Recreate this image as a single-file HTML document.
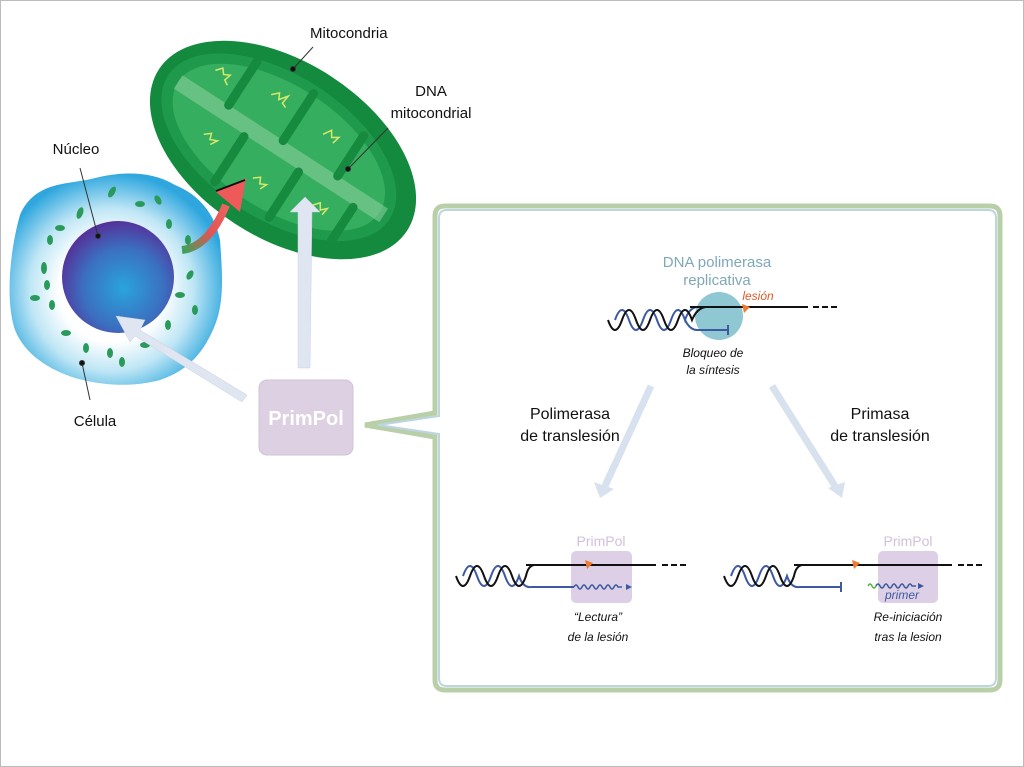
<!DOCTYPE html>
<html><head><meta charset="utf-8"><style>
html,body{margin:0;padding:0;background:#fff;}
svg{display:block;font-family:"Liberation Sans",Arial,sans-serif;}
</style></head><body>
<svg width="1024" height="767" viewBox="0 0 1024 767" xmlns="http://www.w3.org/2000/svg">
<defs>
<radialGradient id="cell" cx="0.48" cy="0.55" r="0.55">
<stop offset="0.45" stop-color="#ffffff"/><stop offset="0.7" stop-color="#bfe6f5"/><stop offset="1" stop-color="#2fa7de"/>
</radialGradient>
<radialGradient id="nuc" cx="0.55" cy="0.6" r="0.6">
<stop offset="0" stop-color="#2aa4dc"/><stop offset="0.6" stop-color="#3b6fc0"/><stop offset="1" stop-color="#55329a"/>
</radialGradient>
<linearGradient id="red" x1="0" y1="1" x2="1" y2="0">
<stop offset="0" stop-color="#3aa35a"/><stop offset="0.5" stop-color="#e05555"/><stop offset="1" stop-color="#f06060"/>
</linearGradient>
</defs>
<rect x="0.5" y="0.5" width="1023" height="766" fill="#fff" stroke="#bbb"/>

<!-- Cell -->
<path d="M20,215 C35,180 70,185 95,178 C120,172 150,170 175,185 C200,195 215,215 220,240 C222,270 225,300 215,325 C205,350 190,370 160,380 C130,388 100,385 75,378 C50,370 25,355 15,330 C5,300 10,250 20,215 Z" fill="url(#cell)"/>
<circle cx="118" cy="277" r="56" fill="url(#nuc)"/>
<g fill="#2a9a5a">
<ellipse cx="112" cy="192" rx="3" ry="6" transform="rotate(30 112 192)"/>
<ellipse cx="140" cy="204" rx="5" ry="3"/>
<ellipse cx="158" cy="200" rx="3" ry="5" transform="rotate(-30 158 200)"/>
<ellipse cx="80" cy="213" rx="3" ry="6" transform="rotate(20 80 213)"/>
<ellipse cx="60" cy="228" rx="5" ry="3"/>
<ellipse cx="50" cy="240" rx="3" ry="5"/>
<ellipse cx="169" cy="224" rx="3" ry="5"/>
<ellipse cx="188" cy="240" rx="3" ry="5"/>
<ellipse cx="44" cy="268" rx="3" ry="6"/>
<ellipse cx="47" cy="285" rx="3" ry="5"/>
<ellipse cx="35" cy="298" rx="5" ry="3"/>
<ellipse cx="52" cy="305" rx="3" ry="5"/>
<ellipse cx="190" cy="275" rx="3" ry="5" transform="rotate(30 190 275)"/>
<ellipse cx="180" cy="295" rx="5" ry="3"/>
<ellipse cx="195" cy="310" rx="3" ry="5"/>
<ellipse cx="168" cy="325" rx="3" ry="5"/>
<ellipse cx="66" cy="333" rx="5" ry="3"/>
<ellipse cx="86" cy="348" rx="3" ry="5"/>
<ellipse cx="110" cy="353" rx="3" ry="5"/>
<ellipse cx="122" cy="362" rx="3" ry="5"/>
<ellipse cx="145" cy="345" rx="5" ry="3"/>
</g>

<!-- Mitochondria -->
<g transform="translate(283,150) rotate(33)">
<ellipse cx="0" cy="0" rx="148" ry="88" fill="#138a3e"/>
<ellipse cx="-5" cy="0" rx="132" ry="72" fill="#1f9a4c"/>
<ellipse cx="-5" cy="0" rx="120" ry="62" fill="#36ae60"/>
<path d="M-125,0 L120,0" stroke="#8fd2a0" stroke-width="16" opacity="0.55"/>
<g stroke="#168a3e" stroke-width="9" stroke-linecap="round">
<line x1="-70" y1="-60" x2="-70" y2="-8"/>
<line x1="-5" y1="-64" x2="-5" y2="-8"/>
<line x1="60" y1="-56" x2="60" y2="-8"/>
<line x1="-40" y1="64" x2="-40" y2="10"/>
<line x1="25" y1="64" x2="25" y2="10"/>
<line x1="90" y1="50" x2="90" y2="10"/>
</g>
<g stroke="#d8e86a" stroke-width="1.5" fill="none">
<path d="M-100,-30 l5,-6 l4,5 l6,-3 l-2,7 l5,3"/>
<path d="M-40,-40 l6,-6 l3,6 l6,-8 l-1,9 l5,2"/>
<path d="M-75,30 l6,-5 l2,6 l7,-3 l-4,7"/>
<path d="M25,-35 l5,-8 l4,6 l6,-4 l-2,8"/>
<path d="M-10,40 l6,-5 l3,6 l6,-3 l-3,7"/>
<path d="M55,30 l5,-6 l4,6 l5,-5 l-1,8"/>
</g>
</g>

<!-- red arrow -->
<path d="M182,250 C200,248 215,232 226,205" stroke="url(#red)" stroke-width="8" fill="none"/>
<path d="M216,192 L246,178 L240,212 Z" fill="#ee5a5a"/>
<path d="M216,191 L245,180" stroke="#111" stroke-width="2"/>

<!-- leader lines -->
<g stroke="#333" stroke-width="1" fill="#111">
<line x1="80" y1="168" x2="98" y2="236"/><circle cx="98" cy="236" r="2.5"/>
<line x1="90" y1="400" x2="82" y2="363"/><circle cx="82" cy="363" r="2.5"/>
<line x1="313" y1="47" x2="293" y2="69"/><circle cx="293" cy="69" r="2.5"/>
<line x1="388" y1="128" x2="348" y2="169"/><circle cx="348" cy="169" r="2.5"/>
</g>
<text x="310" y="38" font-size="15" fill="#111">Mitocondria</text>
<text x="431" y="96" font-size="15" fill="#111" text-anchor="middle">DNA</text>
<text x="431" y="118" font-size="15" fill="#111" text-anchor="middle">mitocondrial</text>
<text x="76" y="154" font-size="15" fill="#111" text-anchor="middle">Núcleo</text>
<text x="95" y="426" font-size="15" fill="#111" text-anchor="middle">Célula</text>

<!-- light arrows -->
<path d="M247,395 L140,330 L145,320 L116,316 L130,342 L135,336 L242,402 Z" fill="#dfe6f2" stroke="#c8d0e0" stroke-width="0.5"/>
<path d="M298,368 L298,212 L290,212 L305,197 L320,212 L312,212 L310,368 Z" fill="#dfe6f2" stroke="#c8d0e0" stroke-width="0.5"/>

<!-- PrimPol box -->
<rect x="259" y="380" width="94" height="75" rx="8" fill="#dcd0e2" stroke="#cfc3d8"/>
<text x="306" y="425" font-size="20" font-weight="bold" fill="#fff" text-anchor="middle">PrimPol</text>

<!-- big panel -->
<path d="M445,206 L990,206 Q1000,206 1000,216 L1000,680 Q1000,690 990,690 L445,690 Q435,690 435,680 L435,437 L365,425 L435,413 L435,216 Q435,206 445,206 Z" fill="#fff" stroke="#b9cfa8" stroke-width="5"/>
<path d="M447,210 L988,210 Q996,210 996,218 L996,678 Q996,686 988,686 L447,686 Q439,686 439,678 L439,434 L378,425 L439,416 L439,218 Q439,210 447,210 Z" fill="#fff" stroke="#bdd4e3" stroke-width="2"/>

<!-- top diagram -->
<text x="717" y="267" font-size="15" fill="#7fa8b8" text-anchor="middle">DNA polimerasa</text>
<text x="717" y="285" font-size="15" fill="#7fa8b8" text-anchor="middle">replicativa</text>
<text x="758" y="300" font-size="12" font-style="italic" fill="#e05a2a" text-anchor="middle">lesión</text>
<circle cx="719" cy="316" r="24" fill="#8fc7d3"/>
<path d="M615,320 q7,-20 14,0 t14,0 t14,0 t14,0 t14,0 q4,-12 12,-13" stroke="#3d5aa0" stroke-width="2" fill="none"/>
<path d="M608,320 q7,20 14,0 t14,0 t14,0 t14,0 t14,0 t14,0 q5,-12 14,-13" stroke="#111" stroke-width="2" fill="none"/>
<line x1="690" y1="307" x2="808" y2="307" stroke="#111" stroke-width="2"/>
<line x1="813" y1="307" x2="838" y2="307" stroke="#111" stroke-width="2" stroke-dasharray="6,3"/>
<path d="M685,320 q5,10 12,10 L728,330" stroke="#3d5aa0" stroke-width="2" fill="none"/>
<line x1="728" y1="325" x2="728" y2="335" stroke="#3d5aa0" stroke-width="2"/>
<path d="M742,304 l8,3 l-6,6 Z" fill="#f07a30"/>
<text x="713" y="357" font-size="12" font-style="italic" fill="#111" text-anchor="middle">Bloqueo de</text>
<text x="713" y="374" font-size="12" font-style="italic" fill="#111" text-anchor="middle">la síntesis</text>

<!-- diagonal arrows -->
<path d="M651,386 L605,486" stroke="#d7e2ee" stroke-width="7" fill="none"/>
<path d="M600,498 L594,482 L614,489 Z" fill="#d7e2ee"/>
<path d="M772,386 L835,486" stroke="#d7e2ee" stroke-width="7" fill="none"/>
<path d="M842,498 L828,488 L845,482 Z" fill="#d7e2ee"/>

<text x="570" y="419" font-size="16" fill="#111" text-anchor="middle">Polimerasa</text>
<text x="570" y="441" font-size="16" fill="#111" text-anchor="middle">de translesión</text>
<text x="880" y="419" font-size="16" fill="#111" text-anchor="middle">Primasa</text>
<text x="880" y="441" font-size="16" fill="#111" text-anchor="middle">de translesión</text>

<!-- bottom left -->
<rect x="571" y="551" width="61" height="52" rx="5" fill="#ddd0e6"/>
<text x="601" y="546" font-size="14" fill="#d3bfdc" text-anchor="middle">PrimPol</text>
<path d="M463,576 q7,-20 14,0 t14,0 t14,0 t14,0 q4,12 12,11" stroke="#3d5aa0" stroke-width="2" fill="none"/>
<path d="M456,576 q7,20 14,0 t14,0 t14,0 t14,0 t14,0 q2,-10 8,-11" stroke="#111" stroke-width="2" fill="none"/>
<line x1="526" y1="565" x2="656" y2="565" stroke="#111" stroke-width="2"/>
<line x1="662" y1="565" x2="687" y2="565" stroke="#111" stroke-width="2" stroke-dasharray="6,3"/>
<line x1="531" y1="587" x2="574" y2="587" stroke="#3d5aa0" stroke-width="2"/>
<path d="M574,587 q2,-4 4,0 t4,0 t4,0 t4,0 t4,0 t4,0 t4,0 t4,0 t4,0 t4,0 t4,0 l4,0" stroke="#3d5aa0" stroke-width="1.5" fill="none"/>
<path d="M626,584 l6,3 l-6,3 Z" fill="#3d5aa0"/>
<path d="M585,560 l8,3 l-6,6 Z" fill="#f07a30"/>
<text x="598" y="621" font-size="12" font-style="italic" fill="#111" text-anchor="middle">“Lectura”</text>
<text x="598" y="641" font-size="12" font-style="italic" fill="#111" text-anchor="middle">de la  lesión</text>

<!-- bottom right -->
<rect x="878" y="551" width="60" height="52" rx="5" fill="#ddd0e6"/>
<text x="908" y="546" font-size="14" fill="#d3bfdc" text-anchor="middle">PrimPol</text>
<path d="M731,576 q7,-20 14,0 t14,0 t14,0 t14,0 q4,12 12,11" stroke="#3d5aa0" stroke-width="2" fill="none"/>
<path d="M724,576 q7,20 14,0 t14,0 t14,0 t14,0 t14,0 q2,-10 8,-11" stroke="#111" stroke-width="2" fill="none"/>
<line x1="794" y1="565" x2="952" y2="565" stroke="#111" stroke-width="2"/>
<line x1="958" y1="565" x2="983" y2="565" stroke="#111" stroke-width="2" stroke-dasharray="6,3"/>
<line x1="799" y1="587" x2="841" y2="587" stroke="#3d5aa0" stroke-width="2"/>
<line x1="841" y1="582" x2="841" y2="592" stroke="#3d5aa0" stroke-width="2"/>
<path d="M852,560 l8,3 l-6,6 Z" fill="#f07a30"/>
<path d="M868,586 q2,-4 4,0 t4,0" stroke="#5bb040" stroke-width="1.5" fill="none"/>
<path d="M876,586 q2,-4 4,0 t4,0 t4,0 t4,0 t4,0 t4,0 t4,0 t4,0 t4,0 l4,0" stroke="#3d5aa0" stroke-width="1.5" fill="none"/>
<path d="M918,583 l6,3 l-6,3 Z" fill="#3d5aa0"/>
<text x="902" y="599" font-size="12" font-style="italic" fill="#3d5aa0" text-anchor="middle">primer</text>
<text x="908" y="621" font-size="12" font-style="italic" fill="#111" text-anchor="middle">Re-iniciación</text>
<text x="908" y="641" font-size="12" font-style="italic" fill="#111" text-anchor="middle">tras la lesion</text>
</svg>
</body></html>
